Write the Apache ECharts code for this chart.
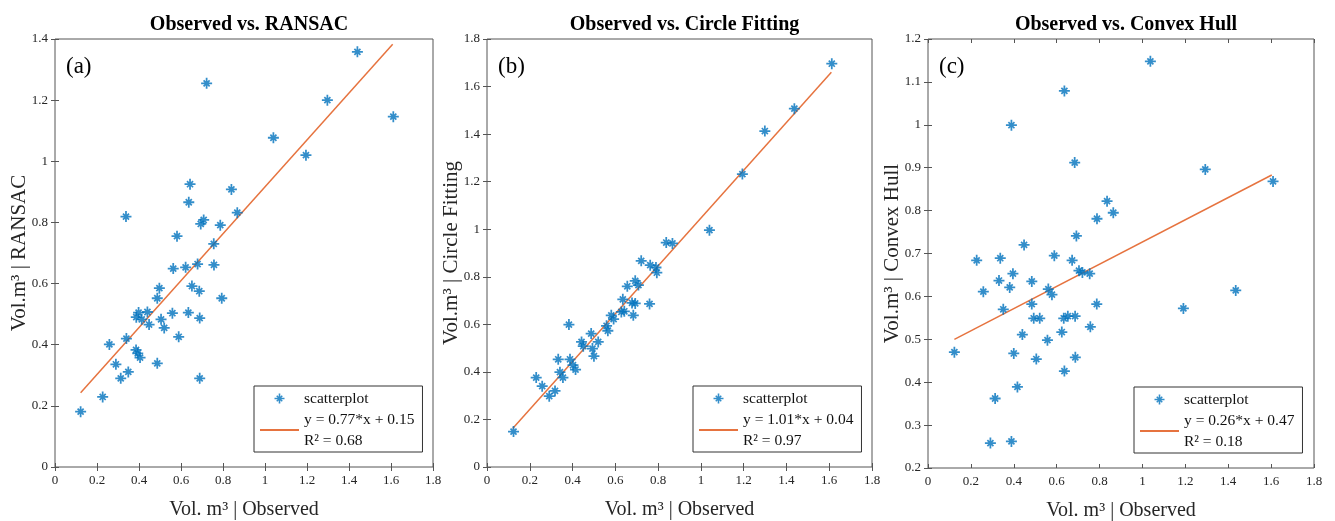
<!DOCTYPE html>
<html><head><meta charset="utf-8">
<script src="https://cdn.jsdelivr.net/npm/echarts@6/dist/echarts.min.js"></script>
<style>html,body{margin:0;padding:0;background:#fff}#c{width:1335px;height:521px}</style>
</head><body><div id="c"></div>
<script>
const panelTitles = ['Observed vs. RANSAC', 'Observed vs. Circle Fitting', 'Observed vs. Convex Hull'];
const panelLetters = ['(a)', '(b)', '(c)'];
const yNames = ['Vol.m³ | RANSAC', 'Vol.m³ | Circle Fitting', 'Vol.m³ | Convex Hull'];
const xName = 'Vol. m³ | Observed';
const scatterName = 'scatterplot';
const fitLabels = ['y = 0.77*x + 0.15\nR² = 0.68', 'y = 1.01*x + 0.04\nR² = 0.97', 'y = 0.26*x + 0.47\nR² = 0.18'];
const xAxisRange = [0, 1.8, 0.2];
const yRanges = [[0, 1.4, 0.2], [0, 1.8, 0.2], [0.2, 1.2, 0.1]];

const ptsA = [
 [0.722,1.255],[0.338,0.819],[0.643,0.925],[0.637,0.866],[0.840,0.908],[0.868,0.832],[0.708,0.808],[0.694,0.795],
 [0.787,0.791],[0.581,0.755],[0.756,0.730],[1.440,1.358],[1.297,1.200],[1.611,1.146],[1.040,1.077],[1.195,1.020],
 [0.563,0.649],[0.622,0.653],[0.679,0.664],[0.757,0.661],[0.652,0.592],[0.687,0.575],[0.794,0.552],[0.497,0.585],
 [0.487,0.552],[0.398,0.505],[0.440,0.507],[0.387,0.490],[0.413,0.483],[0.448,0.466],[0.505,0.483],[0.520,0.455],
 [0.559,0.503],[0.635,0.505],[0.689,0.487],[0.589,0.426],[0.259,0.401],[0.340,0.420],[0.386,0.383],[0.394,0.372],
 [0.405,0.358],[0.290,0.336],[0.487,0.339],[0.349,0.311],[0.313,0.290],[0.689,0.290],[0.227,0.229],[0.122,0.181]
];
const ptsB = [
 [0.838,0.944],[0.867,0.940],[1.612,1.696],[1.437,1.507],[1.299,1.413],[1.194,1.232],[1.040,0.996],[0.721,0.867],
 [0.763,0.849],[0.790,0.839],[0.794,0.817],[0.693,0.783],[0.708,0.765],[0.656,0.760],[0.635,0.705],[0.678,0.690],
 [0.693,0.688],[0.760,0.686],[0.628,0.652],[0.642,0.655],[0.684,0.638],[0.581,0.638],[0.592,0.622],[0.559,0.594],
 [0.565,0.573],[0.383,0.599],[0.487,0.561],[0.442,0.526],[0.450,0.508],[0.493,0.498],[0.520,0.526],[0.500,0.466],
 [0.333,0.453],[0.388,0.453],[0.402,0.428],[0.414,0.410],[0.341,0.399],[0.355,0.376],[0.230,0.376],[0.258,0.340],
 [0.318,0.320],[0.291,0.298],[0.124,0.149]
];
const ptsC = [
 [0.636,1.079],[0.389,0.999],[0.684,0.912],[0.835,0.822],[0.864,0.795],[0.788,0.781],[0.692,0.741],[0.448,0.720],
 [1.037,1.148],[1.293,0.896],[1.609,0.868],[0.227,0.684],[0.337,0.689],[0.589,0.695],[0.672,0.684],[0.396,0.653],
 [0.704,0.660],[0.720,0.656],[0.754,0.653],[0.331,0.637],[0.484,0.635],[0.381,0.621],[0.258,0.611],[0.561,0.617],
 [0.578,0.604],[0.484,0.582],[0.787,0.582],[0.351,0.570],[0.493,0.549],[0.521,0.549],[0.633,0.549],[0.652,0.554],
 [0.686,0.554],[0.757,0.529],[0.440,0.511],[0.624,0.517],[0.557,0.498],[0.123,0.470],[0.400,0.467],[0.505,0.454],
 [0.687,0.458],[0.636,0.426],[0.417,0.389],[0.313,0.362],[0.291,0.258],[0.389,0.262],[1.191,0.572],[1.435,0.614]
];
const fitA = [[0.122,0.243],[1.608,1.383]];
const fitB = [[0.120,0.162],[1.610,1.660]];
const fitC = [[0.123,0.500],[1.603,0.883]];
const panelPoints = [ptsA, ptsB, ptsC];
const panelFits = [fitA, fitB, fitC];

const FONT = 'Liberation Serif';
const BLUE = '#0072BD';
const ORANGE = '#E6733F';
const AX = '#555555';
const star = 'path://M-0.8,-5L0.8,-5L0.8,5L-0.8,5Z M-5,-0.8L5,-0.8L5,0.8L-5,0.8Z M-3.3,-2.2L-2.2,-3.3L3.3,2.2L2.2,3.3Z M2.2,-3.3L3.3,-2.2L-2.2,3.3L-3.3,2.2Z';

const grids = [
  {left: 55, top: 39, width: 378, height: 428},
  {left: 487, top: 39, width: 385, height: 428},
  {left: 928, top: 39, width: 386, height: 429}
];
const legendPos = [{left: 254, top: 386}, {left: 693, top: 386}, {left: 1134, top: 387}];

const option = {
  animation: false,
  backgroundColor: '#fff',
  title: [], grid: [], xAxis: [], yAxis: [], series: [], legend: [], graphic: []
};

grids.forEach((g, i) => {
  option.grid.push(Object.assign({show: true, borderColor: AX, borderWidth: 1, backgroundColor: '#fff',
    containLabel: false, outerBoundsMode: 'none'}, g));
  option.title.push({
    text: panelTitles[i], left: g.left + g.width / 2, top: 10, textAlign: 'center',
    textStyle: {fontFamily: FONT, fontSize: 20, fontWeight: 'bold', color: '#000'}
  });
  const tick = {show: true, inside: true, length: 4, lineStyle: {color: AX}};
  const xa = {
    type: 'value', gridIndex: i, min: xAxisRange[0], max: xAxisRange[1], interval: xAxisRange[2],
    splitLine: {show: false}, axisLine: {show: false}, axisTick: tick,
  };
  option.xAxis.push(Object.assign({}, xa, {
    position: 'bottom', name: xName, nameLocation: 'middle', nameGap: 33, nameMoveOverlap: false,
    nameTextStyle: {fontFamily: FONT, fontSize: 20, color: '#262626'},
    axisLabel: {fontFamily: FONT, fontSize: 13, color: '#262626', margin: 7}
  }));
  option.xAxis.push(Object.assign({}, xa, {position: 'top', axisLabel: {show: false}}));
  const r = yRanges[i];
  const ya = {
    type: 'value', gridIndex: i, min: r[0], max: r[1], interval: r[2],
    splitLine: {show: false}, axisLine: {show: false}, axisTick: tick,
  };
  option.yAxis.push(Object.assign({}, ya, {
    position: 'left', name: yNames[i], nameLocation: 'middle', nameGap: 25, nameMoveOverlap: false,
    nameTextStyle: {fontFamily: FONT, fontSize: 21, color: '#262626'},
    axisLabel: {fontFamily: FONT, fontSize: 13, color: '#262626', margin: 7}
  }));
  option.yAxis.push(Object.assign({}, ya, {position: 'right', axisLabel: {show: false}}));

  option.series.push({
    type: 'scatter', name: scatterName, xAxisIndex: 2 * i, yAxisIndex: 2 * i,
    data: panelPoints[i], symbol: star, symbolSize: 11,
    itemStyle: {color: BLUE}, z: 3
  });
  option.series.push({
    type: 'line', name: fitLabels[i], xAxisIndex: 2 * i, yAxisIndex: 2 * i,
    data: panelFits[i], symbol: 'none', lineStyle: {color: ORANGE, width: 1.5}, itemStyle: {color: ORANGE}, z: 2
  });
  option.legend.push({
    left: legendPos[i].left, top: legendPos[i].top, orient: 'vertical',
    data: [scatterName, {name: fitLabels[i], itemStyle: {color: 'rgba(0,0,0,0)', opacity: 0, borderWidth: 0}}],
    itemWidth: 39, itemHeight: 10, itemGap: 0,
    padding: [2, 8, 1, 5],
    borderColor: '#333', borderWidth: 1, backgroundColor: '#fff',
    selectedMode: false,
    textStyle: {fontFamily: FONT, fontSize: 15.5, color: '#111', lineHeight: 21}
  });
  option.graphic.push({
    type: 'text', left: g.left + 11, top: 55,
    style: {text: panelLetters[i], fontFamily: FONT, fontSize: 23, fill: '#000'}
  });
});

const chart = echarts.init(document.getElementById('c'), null, {renderer: 'canvas'});
chart.setOption(option);
</script>
</body></html>
